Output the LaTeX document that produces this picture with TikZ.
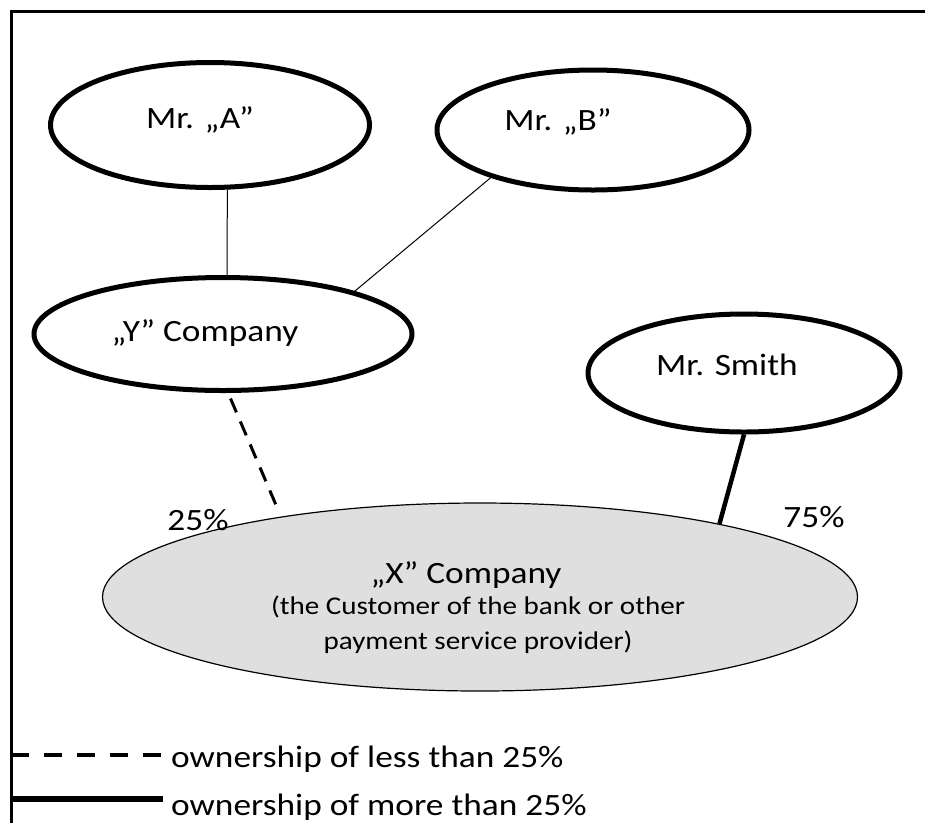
\documentclass[tikz,border=0pt]{standalone}
\usepackage{fontspec}
\setmainfont{Carlito}[FakeStretch=1.14]
\usetikzlibrary{shapes.geometric}

\begin{document}
\begin{tikzpicture}[x=1pt,y=-1pt]
\tikzstyle{every node}+=[inner sep=0pt, font=\fontsize{31}{35}\selectfont]
\tikzstyle{owner}=[ellipse, draw=black, line width=5pt, fill=white]
\tikzstyle{thin link}=[black, line width=1pt]
\tikzstyle{minor link}=[black, line width=3pt, dash pattern=on 15pt off 10pt]
\tikzstyle{major link}=[black, line width=4.5pt]
\useasboundingbox (0,0) rectangle (925,823);
\draw [black, line width=3pt] (11,823) -- (11,11.5) -- (925,11.5);
% persons and companies
\node (mrA) [owner, minimum width=319, minimum height=125] at (210,125) {};
\node (mrAtxt) at (200,120) {Mr. „A”};
\node (mrB) [owner, minimum width=312, minimum height=120] at (593,130) {};
\node (mrBtxt) at (558,122) {Mr. „B”};
\node (ycomp) [owner, minimum width=378, minimum height=113] at (223,334) {};
\node (ycomptxt) at (205,333) {„Y” Company};
\node (smith) [owner, minimum width=312, minimum height=118] at (744,373) {};
\node (smithtxt) at (727,365) {Mr. Smith};
\node (xcomp) [ellipse, draw=black, line width=1.2pt, fill=gray!25, minimum width=755, minimum height=188] at (480,597) {};
\node (xcomptxt) at (466,575) {„X” Company};
\node (xdesc) [align=center, font=\fontsize{25.5}{35}\selectfont] at (478,625) {(the Customer of the bank or other\\payment service provider)};
% ownership links
\draw [thin link] (mrA.-75) -- (ycomp.86);
\draw [thin link] (mrB.205) -- (ycomp.18);
\draw [minor link, shorten <=6pt, shorten >=10pt] (ycomp.-85) -- (xcomp.158);
\draw [major link] (smith.south) -- (xcomp.17);
\node (pctY) at (198,520) {25\%};
\node (pctS) at (814,517) {75\%};
% legend
\coordinate (lessA) at (11,755);
\coordinate (lessB) at (163,755);
\coordinate (moreA) at (11,799);
\coordinate (moreB) at (163,799);
\draw [black, line width=4pt, dash pattern=on 18pt off 15pt] (lessA) -- (lessB);
\draw [black, line width=6.5pt] (moreA) -- (moreB);
\node (lesstxt) [anchor=base west] at (171,767) {ownership of less than 25\%};
\node (moretxt) [anchor=base west] at (171,815) {ownership of more than 25\%};
\end{tikzpicture}
\end{document}
